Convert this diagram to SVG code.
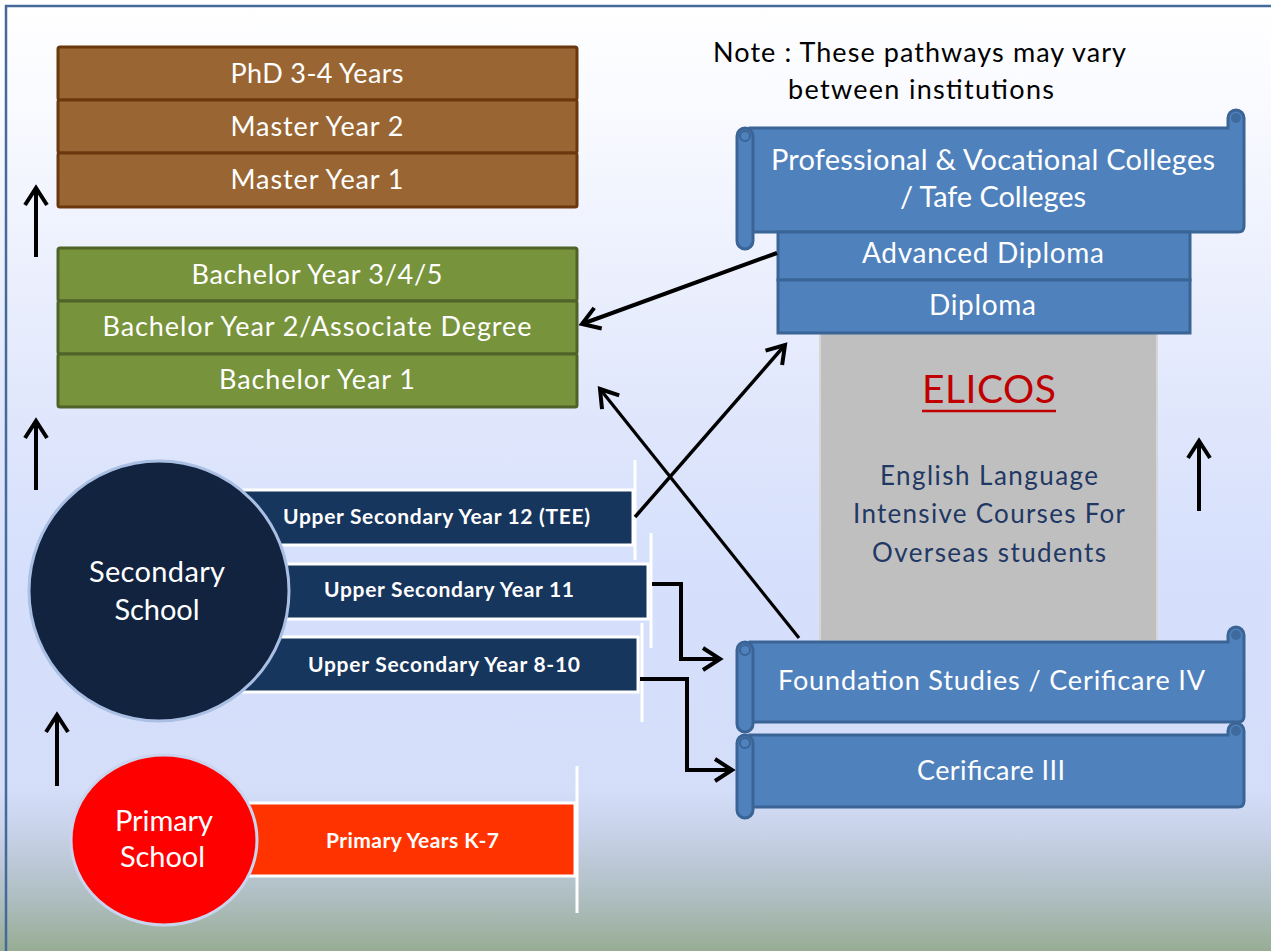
<svg xmlns="http://www.w3.org/2000/svg" width="1271" height="951" viewBox="0 0 1271 951">
<defs>
<linearGradient id="bg" gradientUnits="userSpaceOnUse" x1="0" y1="0" x2="0" y2="951">
<stop offset="0" stop-color="#ffffff"/>
<stop offset="0.1" stop-color="#fafbff"/>
<stop offset="0.45" stop-color="#dfe6fc"/>
<stop offset="0.6" stop-color="#d6e0fc"/>
<stop offset="0.83" stop-color="#d4def9"/>
<stop offset="0.88" stop-color="#c6d0e6"/>
<stop offset="0.94" stop-color="#b0bfc4"/>
<stop offset="1" stop-color="#98ad94"/>
</linearGradient>
<marker id="ah" markerUnits="userSpaceOnUse" viewBox="-20 -15 25 30" markerWidth="25" markerHeight="30" refX="0" refY="0" orient="auto" overflow="visible">
<path d="M-17,-11 L0,0 L-17,11" fill="none" stroke="#000" stroke-width="4" stroke-linejoin="miter"/>
</marker>
<style>
.t{font-family:Lato,"Open Sans","Liberation Sans",sans-serif;text-anchor:middle;fill:#fff}
.b{font-weight:bold}
.brown{fill:#996633;stroke:#6a380c;stroke-width:3}
.green{fill:#77933c;stroke:#4f6228;stroke-width:3}
.blue{fill:#4f81bd;stroke:#3a6495;stroke-width:3}
.navy{fill:#17365d;stroke:#fff;stroke-width:3}
.wl{stroke:#fff;stroke-width:3}
.con{fill:none;stroke:#000;stroke-width:4}
</style>
</defs>
<rect x="0" y="0" width="1271" height="951" fill="url(#bg)"/>
<path d="M5,6 H1271 M6,5 V951" fill="none" stroke="#456a9a" stroke-width="2.5"/>

<g id="elicos">
<rect x="820" y="333" width="337" height="308" fill="#bfbfbf" stroke="#d6d6d6" stroke-width="2"/>
<text class="t" x="989" y="403" font-size="39" style="fill:#c00000" textLength="134">ELICOS</text>
<line x1="922" y1="411" x2="1056" y2="411" stroke="#c00000" stroke-width="2.5"/>
<text class="t" font-size="26" style="fill:#1f3864" x="989" y="485" textLength="218">English Language</text>
<text class="t" font-size="26" style="fill:#1f3864" x="989" y="523" textLength="272">Intensive Courses For</text>
<text class="t" font-size="26" style="fill:#1f3864" x="989" y="562" textLength="234">Overseas students</text>
</g>

<g id="professional">
<path class="blue" d="M750,128 H1228 V118 A8,8 0 0 1 1244,118 V226 Q1244,232 1238,232 H750 Z"/>
<circle cx="1236" cy="118" r="5" fill="#3f6a9e"/>
<rect class="blue" x="737" y="128" width="16" height="121" rx="8"/>
<circle cx="745" cy="136" r="5" fill="none" stroke="#3a6495" stroke-width="2"/>
<text class="t" font-size="29" x="993" y="170" textLength="444">Professional &amp; Vocational Colleges</text>
<text class="t" font-size="29" x="993" y="207" textLength="186">/ Tafe Colleges</text>
</g>

<g id="advdiploma">
<rect class="blue" x="778" y="232" width="412" height="48"/>
<text class="t" font-size="28" x="983" y="263" textLength="242">Advanced Diploma</text>
</g>
<g id="diploma">
<rect class="blue" x="778" y="280" width="412" height="53"/>
<text class="t" font-size="28" x="982.5" y="315" textLength="107">Diploma</text>
</g>

<g id="foundation">
<path class="blue" d="M750,642 H1228 V635 A8,8 0 0 1 1244,635 V716 Q1244,722 1238,722 H750 Z"/>
<circle cx="1236" cy="635" r="5" fill="#3f6a9e"/>
<rect class="blue" x="737" y="642" width="16" height="90" rx="8"/>
<circle cx="745" cy="650" r="5" fill="none" stroke="#3a6495" stroke-width="2"/>
<text class="t" font-size="27" x="991.5" y="690" textLength="427">Foundation Studies / Cerificare IV</text>
</g>

<g id="cert3">
<path class="blue" d="M750,735 H1228 V731 A8,8 0 0 1 1244,731 V801 Q1244,807 1238,807 H750 Z"/>
<circle cx="1236" cy="731" r="5" fill="#3f6a9e"/>
<rect class="blue" x="737" y="735" width="16" height="83" rx="8"/>
<circle cx="745" cy="743" r="5" fill="none" stroke="#3a6495" stroke-width="2"/>
<text class="t" font-size="27" x="991" y="780" textLength="148">Cerificare III</text>
</g>

<g id="note">
<text class="t" font-size="27" style="fill:#000" x="919.5" y="62" textLength="413">Note : These pathways may vary</text>
<text class="t" font-size="27" style="fill:#000" x="921" y="99" textLength="266">between institutions</text>
</g>

<g id="phd">
<rect class="brown" x="58" y="47" width="519" height="53" rx="2"/>
<text class="t" font-size="27" x="317" y="83" textLength="173">PhD 3-4 Years</text>
</g>
<g id="master2">
<rect class="brown" x="58" y="100" width="519" height="53" rx="2"/>
<text class="t" font-size="27" x="317" y="136" textLength="173">Master Year 2</text>
</g>
<g id="master1">
<rect class="brown" x="58" y="153" width="519" height="54" rx="2"/>
<text class="t" font-size="27" x="317" y="189" textLength="173">Master Year 1</text>
</g>

<g id="bachelor345">
<rect class="green" x="58" y="248" width="519" height="53" rx="2"/>
<text class="t" font-size="27" x="317" y="284" textLength="251">Bachelor Year 3/4/5</text>
</g>
<g id="bachelor2">
<rect class="green" x="58" y="301" width="519" height="53" rx="2"/>
<text class="t" font-size="27" x="317" y="336" textLength="429">Bachelor Year 2/Associate Degree</text>
</g>
<g id="bachelor1">
<rect class="green" x="58" y="354" width="519" height="53" rx="2"/>
<text class="t" font-size="27" x="317" y="389" textLength="196">Bachelor Year 1</text>
</g>

<g id="year12">
<rect class="navy" x="200" y="490" width="433" height="55"/>
<line class="wl" x1="635" y1="460" x2="635" y2="560"/>
<text class="t b" font-size="21" x="436.5" y="524" textLength="307">Upper Secondary Year 12 (TEE)</text>
</g>
<g id="year11">
<rect class="navy" x="200" y="564" width="448" height="55"/>
<line class="wl" x1="651" y1="533" x2="651" y2="648"/>
<text class="t b" font-size="21" x="449" y="597" textLength="250">Upper Secondary Year 11</text>
</g>
<g id="year810">
<rect class="navy" x="200" y="637" width="438" height="55"/>
<line class="wl" x1="642" y1="623" x2="642" y2="722"/>
<text class="t b" font-size="21" x="444" y="672" textLength="272">Upper Secondary Year 8-10</text>
</g>
<g id="secondary">
<ellipse cx="159" cy="591" rx="130" ry="130" fill="#12233f" stroke="#a9bfe3" stroke-width="3"/>
<text class="t" font-size="29" x="157" y="582" textLength="136">Secondary</text>
<text class="t" font-size="29" x="157" y="620" textLength="85">School</text>
</g>

<g id="primaryyears">
<rect x="200" y="803" width="375" height="73" fill="#ff3300" stroke="#fff" stroke-width="3"/>
<line class="wl" x1="577" y1="766" x2="577" y2="913"/>
<text class="t b" font-size="21" x="412.5" y="848" textLength="173">Primary Years K-7</text>
</g>
<g id="primary">
<ellipse cx="164" cy="840" rx="93" ry="85" fill="#ff0000" stroke="#c9d5ee" stroke-width="3"/>
<text class="t" font-size="29" x="164" y="831" textLength="98">Primary</text>
<text class="t" font-size="29" x="162.5" y="867" textLength="85">School</text>
</g>

<g id="connectors">
<line class="con" x1="36" y1="257" x2="36" y2="188" marker-end="url(#ah)"/>
<line class="con" x1="36" y1="490" x2="36" y2="421" marker-end="url(#ah)"/>
<line class="con" x1="57" y1="786" x2="57" y2="715" marker-end="url(#ah)"/>
<line class="con" x1="1199" y1="511" x2="1199" y2="441" marker-end="url(#ah)"/>
<line class="con" x1="777" y1="253" x2="582" y2="324" marker-end="url(#ah)"/>
<line class="con" x1="635" y1="517" x2="785" y2="345" marker-end="url(#ah)" style="stroke-width:3.5"/>
<line class="con" x1="799" y1="638" x2="600" y2="389" marker-end="url(#ah)" style="stroke-width:3.2"/>
<path class="con" d="M652,584 H681 V659 H720" marker-end="url(#ah)"/>
<path class="con" d="M640,679 H687 V770 H732" marker-end="url(#ah)"/>
</g>
</svg>
